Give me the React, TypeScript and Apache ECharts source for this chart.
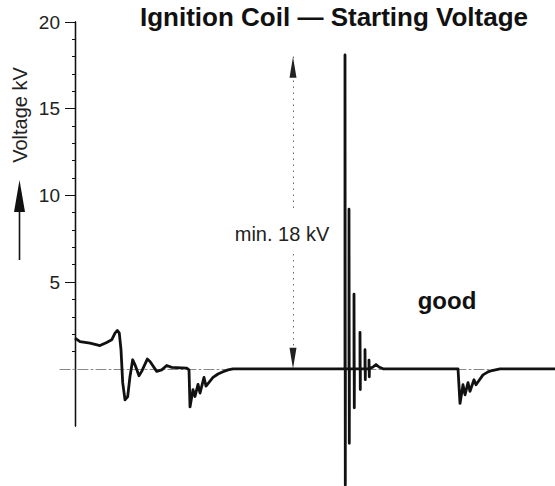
import { useEffect, useRef } from 'react';
import * as echarts from 'echarts';

const titleText = 'Ignition Coil — Starting Voltage';
const axisName = 'Voltage kV';
const thresholdLabel = 'min. 18 kV';
const verdictLabel = 'good';

const yMin = -3.3;
const yMax = 20;
const majorTicks = [5, 10, 15, 20];
const minorTicks = [1, 2, 3, 4, 6, 7, 8, 9, 11, 12, 13, 14, 16, 17, 18, 19];

const minVoltage = 18;
const markerTime = 218;
const gapTop = 9.0;
const gapBottom = 6.6;

const xMin = -15;
const xMax = 480;

// time (arbitrary units) and voltage (kV) of the oscilloscope trace
const time = [
  0, 5, 15, 25, 31.7, 36.7, 40, 42.3, 44.3, 46, 47.7, 50, 52.7, 55, 57.7, 60, 64, 66.7, 72.3, 75,
  81.7, 86.7, 91.7, 96.7, 111.7, 114, 115, 118, 120, 123, 125, 129, 131, 138, 143, 148, 153, 158,
  270, 270, 270.3, 270.4,
  274, 274, 274.3, 274.4,
  279, 279, 279.3, 279.4,
  285, 285, 285.3, 285.4,
  290, 290, 290.3, 290.4,
  294, 294, 294.3, 294.4,
  298, 301, 304, 308,
  383, 385, 388, 390, 393, 395, 399, 401, 408, 413, 417, 425, 480,
];
const voltage = [
  1.77, 1.57, 1.48, 1.34, 1.52, 1.67, 2.06, 2.21, 2.06, 1.1, -0.8, -1.79, -1.6, -0.44, 0.52, 0.23, -0.4, -0.15, 0.56, 0.42,
  -0.15, -0.06, 0.19, 0.08, 0.04, -0.06, -2.2, -1.2, -1.6, -0.9, -1.4, -0.5, -1.0, -0.5, -0.3, -0.17, -0.06, 0,
  0, 18.1, -6.7, 0,
  0, 9.2, -4.3, 0,
  0, 4.3, -2.25, 0,
  0, 2.1, -1.2, 0,
  0, 1.1, -0.63, 0,
  0, 0.5, -0.46, 0,
  0.1, 0.25, 0.1, 0,
  0, -2.0, -0.92, -1.5, -0.8, -1.3, -0.63, -0.92, -0.35, -0.18, -0.1, 0, 0,
];

const FONT = '"Liberation Sans", Arial, Helvetica, sans-serif';

export default function App() {
  const ref = useRef<HTMLDivElement>(null);
  useEffect(() => {
    if (!ref.current) return;
    const chart = echarts.init(ref.current, null, { renderer: 'svg' });
    const data = time.map((t, i) => [t, voltage[i]]);
    chart.setOption({
      animation: false,
      grid: { left: 60, right: 0, top: 22, bottom: 60, containLabel: false },
      xAxis: {
        type: 'value',
        min: xMin,
        max: xMax,
        axisLine: { show: true, onZero: true, lineStyle: { color: '#888', width: 1, type: [10, 3, 2, 3] } },
        axisTick: { show: false },
        axisLabel: { show: false },
        splitLine: { show: false },
      },
      yAxis: [
        {
          type: 'value',
          min: yMin,
          max: yMax,
          position: 'left',
          axisLine: { show: true, onZero: true, onZeroAxisIndex: 0, lineStyle: { color: '#111', width: 1.3 } },
          axisTick: { show: true, customValues: majorTicks, length: 10, lineStyle: { color: '#111', width: 1 } },
          axisLabel: {
            show: true,
            customValues: majorTicks,
            margin: 0,
            fontSize: 19,
            color: '#222',
            fontFamily: FONT,
          },
          splitLine: { show: false },
        },
        {
          type: 'value',
          min: yMin,
          max: yMax,
          position: 'left',
          axisLine: { show: true, onZero: true, onZeroAxisIndex: 0, lineStyle: { color: '#111', width: 1.3 } },
          axisTick: { show: true, customValues: minorTicks, length: 3, lineStyle: { color: '#111', width: 1 } },
          axisLabel: { show: false },
          splitLine: { show: false },
        },
      ],
      series: [
        {
          type: 'line',
          data,
          xAxisIndex: 0,
          yAxisIndex: 0,
          clip: false,
          symbol: 'none',
          smooth: false,
          lineStyle: { color: '#111', width: 2.8, join: 'round' },
          silent: true,
          markLine: {
            silent: true,
            animation: false,
            label: { show: false },
            lineStyle: { color: '#222', width: 1, type: [1, 5] },
            symbolSize: [7, 21],
            data: [
              [
                { coord: [markerTime, minVoltage], symbol: 'triangle', symbolOffset: [0, '50%'] },
                { coord: [markerTime, gapTop], symbol: 'none' },
              ],
              [
                { coord: [markerTime, gapBottom], symbol: 'none' },
                { coord: [markerTime, 0], symbol: 'triangle', symbolOffset: [0, '50%'] },
              ],
            ],
          },
        },
      ],
      graphic: [
        {
          type: 'text',
          x: 140,
          y: 17,
          style: {
            text: titleText,
            font: `bold 26px ${FONT}`,
            fill: '#111',
            align: 'left',
            verticalAlign: 'middle',
            textAlign: 'left',
            textVerticalAlign: 'middle',
          },
        },
        {
          type: 'text',
          x: 19.5,
          y: 115,
          rotation: Math.PI / 2,
          style: {
            text: axisName,
            font: `20px ${FONT}`,
            fill: '#222',
            align: 'center',
            verticalAlign: 'middle',
            textAlign: 'center',
            textVerticalAlign: 'middle',
          },
        },
        {
          type: 'polygon',
          shape: { points: [[19.5, 180], [25, 212], [14, 212]] },
          style: { fill: '#111' },
        },
        {
          type: 'line',
          shape: { x1: 19.5, y1: 210, x2: 19.5, y2: 260 },
          style: { stroke: '#111', lineWidth: 1.6 },
        },
        {
          type: 'text',
          x: 282,
          y: 234,
          z: 100,
          style: {
            text: thresholdLabel,
            font: `20px ${FONT}`,
            fill: '#222',
            align: 'center',
            verticalAlign: 'middle',
            textAlign: 'center',
            textVerticalAlign: 'middle',
          },
        },
        {
          type: 'text',
          x: 447,
          y: 300,
          style: {
            text: verdictLabel,
            font: `bold 24px ${FONT}`,
            fill: '#111',
            align: 'center',
            verticalAlign: 'middle',
            textAlign: 'center',
            textVerticalAlign: 'middle',
          },
        },
      ],
    });
    return () => chart.dispose();
  }, []);
  return (
    <div
      ref={ref}
      style={{ position: 'fixed', left: 0, top: 0, width: 555, height: 486, background: '#fff' }}
    />
  );
}
